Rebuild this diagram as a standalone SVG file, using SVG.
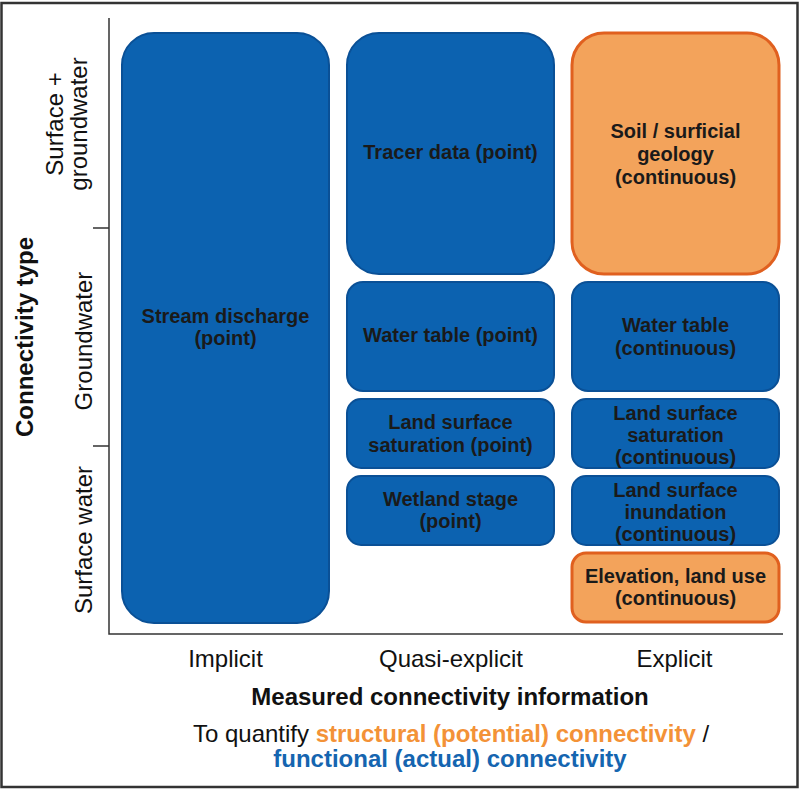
<svg xmlns="http://www.w3.org/2000/svg" width="800" height="790" viewBox="0 0 800 790">
<style>
.blue{fill:#0c62b0;stroke:#0a5096;stroke-width:2}
.orange{fill:#f3a35b;stroke:#e0601f;stroke-width:3}
.bt{font-family:"Liberation Sans",Arial,sans-serif;font-weight:bold;font-size:20px;fill:#1a1a1a;text-anchor:middle}
.lab{font-family:"Liberation Sans",Arial,sans-serif;font-size:24px;fill:#111;text-anchor:middle}
.axis{stroke:#333;stroke-width:1.5;fill:none}
.struct{font-weight:bold;fill:#f39237}
.func{font-weight:bold;fill:#1565b0}
</style>
<rect x="1.5" y="3" width="796" height="784" fill="#fff" stroke="#333" stroke-width="2.5"/>
<g id="axes">
<path class="axis" d="M109 18 V634 H783"/>
<path class="axis" d="M93 228 H109 M93 446 H109"/>
</g>
<g id="y-labels">
<text class="lab" font-weight="bold" transform="translate(33,337) rotate(-90)">Connectivity type</text>
<text class="lab" transform="translate(63,124) rotate(-90)">Surface +</text>
<text class="lab" transform="translate(87,124) rotate(-90)">groundwater</text>
<text class="lab" transform="translate(92,341) rotate(-90)">Groundwater</text>
<text class="lab" transform="translate(92,540) rotate(-90)">Surface water</text>
</g>
<g id="stream">
<rect class="blue" x="122" y="33" width="207" height="590" rx="32"/>
<text class="bt" x="225.5" y="322.5">Stream discharge</text>
<text class="bt" x="225.5" y="345">(point)</text>
</g>
<g id="tracer">
<rect class="blue" x="347" y="33" width="207" height="241" rx="32"/>
<text class="bt" x="450.5" y="159">Tracer data (point)</text>
</g>
<g id="soil">
<rect class="orange" x="572" y="33" width="207" height="241" rx="32"/>
<text class="bt" x="675.5" y="138">Soil / surficial</text>
<text class="bt" x="675.5" y="161">geology</text>
<text class="bt" x="675.5" y="184">(continuous)</text>
</g>
<g id="wt-point">
<rect class="blue" x="347" y="282" width="207" height="109" rx="16"/>
<text class="bt" x="450.5" y="342">Water table (point)</text>
</g>
<g id="wt-cont">
<rect class="blue" x="572" y="282" width="207" height="109" rx="16"/>
<text class="bt" x="675.5" y="332">Water table</text>
<text class="bt" x="675.5" y="355">(continuous)</text>
</g>
<g id="lss-point">
<rect class="blue" x="347" y="399" width="207" height="69" rx="14"/>
<text class="bt" x="450.5" y="429">Land surface</text>
<text class="bt" x="450.5" y="452">saturation (point)</text>
</g>
<g id="lss-cont">
<rect class="blue" x="572" y="399" width="207" height="69" rx="14"/>
<text class="bt" x="675.5" y="420">Land surface</text>
<text class="bt" x="675.5" y="442">saturation</text>
<text class="bt" x="675.5" y="464">(continuous)</text>
</g>
<g id="wetland">
<rect class="blue" x="347" y="476" width="207" height="69" rx="14"/>
<text class="bt" x="450.5" y="506">Wetland stage</text>
<text class="bt" x="450.5" y="528">(point)</text>
</g>
<g id="lsi-cont">
<rect class="blue" x="572" y="476" width="207" height="69" rx="14"/>
<text class="bt" x="675.5" y="497">Land surface</text>
<text class="bt" x="675.5" y="519">inundation</text>
<text class="bt" x="675.5" y="541">(continuous)</text>
</g>
<g id="elevation">
<rect class="orange" x="572" y="553" width="207" height="69" rx="14"/>
<text class="bt" x="675.5" y="583">Elevation, land use</text>
<text class="bt" x="675.5" y="605">(continuous)</text>
</g>
<g id="connectors"></g>
<g id="x-labels">
<text class="lab" font-size="23.5" x="225.5" y="667">Implicit</text>
<text class="lab" font-size="23.5" x="451" y="667">Quasi-explicit</text>
<text class="lab" font-size="23.5" x="674.5" y="667">Explicit</text>
<text class="lab" font-size="23.5" font-weight="bold" x="450" y="705">Measured connectivity information</text>
<text class="lab" font-size="23.5" x="451" y="742">To quantify <tspan class="struct">structural (potential) connectivity</tspan> /</text>
<text class="lab func" font-size="23.5" x="450" y="767">functional (actual) connectivity</text>
</g>
</svg>
